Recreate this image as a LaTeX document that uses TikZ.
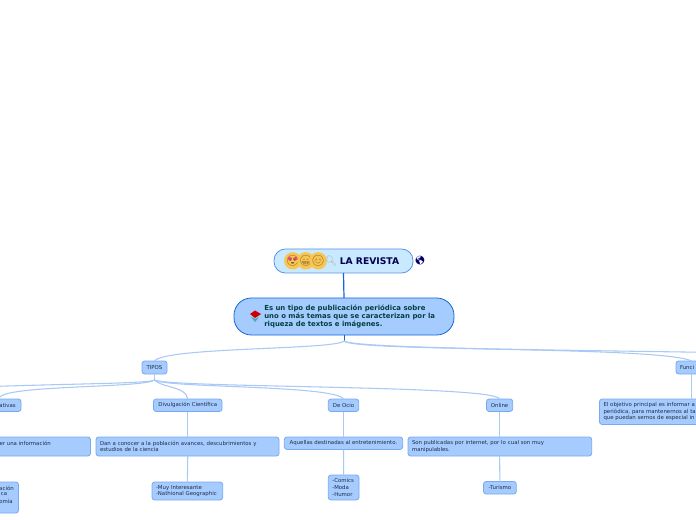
\documentclass[tikz,border=0pt]{standalone}
\usepackage{fontspec}
\setmainfont{DejaVu Sans}
\newfontfamily\emojifont{Noto Emoji}
\definecolor{boxfill}{HTML}{A6CCFF}
\definecolor{boxline}{HTML}{78A9F0}
\definecolor{boxtext}{HTML}{1F2C48}
\definecolor{titlefill}{HTML}{C8E9FF}
\definecolor{strong}{HTML}{1565D8}
\definecolor{linkcol}{HTML}{A9C9F6}
\definecolor{facecol}{HTML}{F7C650}
\tikzset{
  x=0.75pt,y=-0.75pt,
  boxbase/.style={rectangle,draw=boxline,fill=boxfill,line width=0.6pt,rounded corners=2pt,inner sep=0pt,outer sep=0pt,text=boxtext,font=\fontsize{4.05}{5}\selectfont},
  cliptext/.style={inner sep=0pt,text=boxtext,font=\fontsize{4.05}{5}\selectfont},
  titlebox/.style={boxbase,draw=strong!70!white,fill=titlefill,rounded corners=8.5pt},
  mainbox/.style={boxbase,draw=strong,fill=boxfill,rounded corners=13pt},
  link/.style={draw=linkcol,line width=0.8pt},
  strongline/.style={draw=strong,line width=0.9pt},
  facenode/.style={circle,fill=facecol,inner sep=0pt,minimum size=8.2pt,text=brown!70!black,font=\emojifont\fontsize{8}{8}\selectfont},
  glyphnode/.style={inner sep=0pt,font=\emojifont\fontsize{6.4}{6.4}\selectfont}
}
% name, style, x1, y1, x2, y2, text (centred)
\newcommand{\boxC}[7]{%
  \pgfmathsetmacro{\bcx}{(#3+#5)/2}\pgfmathsetmacro{\bcy}{(#4+#6)/2}%
  \pgfmathsetmacro{\bw}{(#5-#3)*0.75}\pgfmathsetmacro{\bh}{(#6-#4)*0.75}%
  \node[#2,minimum width=\bw pt,minimum height=\bh pt,align=center] (#1) at (\bcx,\bcy) {#7};}
% same, with a left-set paragraph starting 4px from the left edge
\newcommand{\boxL}[7]{%
  \pgfmathsetmacro{\bcx}{(#3+#5)/2}\pgfmathsetmacro{\bcy}{(#4+#6)/2}%
  \pgfmathsetmacro{\bw}{(#5-#3)*0.75}\pgfmathsetmacro{\bh}{(#6-#4)*0.75}%
  \pgfmathsetmacro{\bt}{(#5-#3-8)*0.75}%
  \node[#2,minimum width=\bw pt,minimum height=\bh pt,text width=\bt pt,align=left] (#1) at (\bcx,\bcy) {#7};}
\begin{document}
\begin{tikzpicture}
\useasboundingbox (0,0) rectangle (696,520);
\clip (0,0) rectangle (696,520);
\fill[white] (0,0) rectangle (696,520);

% top nodes
\boxC{title}{titlebox}{274}{249}{413}{273}{}
\node[inner sep=0pt,text=blue!30!black,font=\fontsize{6.9}{8}\bfseries\selectfont,anchor=west] (titletext) at (339.5,261) {LA REVISTA};
\boxC{main}{mainbox}{234}{298}{454}{335}{}
\node[inner sep=0pt,text=teal!50!black,font=\fontsize{5.2}{6.1}\bfseries\selectfont,align=left,anchor=west] (maintext) at (264,316.5) {Es un tipo de publicación periódica sobre\\uno o más temas que se caracterizan por la\\riqueza de textos e imágenes.};

% emoji
\node[facenode] (f1) at (292.7,260.8) {😍};
\fill[magenta!70!pink] (289.6,258.4) circle (1.9) (295.8,258.4) circle (1.9);
\node[facenode] (f2) at (305.8,260.8) {😁};
\node[facenode] (f3) at (318.2,260.8) {😊};
\node[glyphnode,text=gray!60,font=\emojifont\fontsize{7.5}{7.5}\selectfont] (f4) at (331,261) {🔍};
\node[glyphnode,text=blue!40!black] (globe) at (420,260.7) {🌎};
\fill[red!80!black] (250,314) -- (255,310.5) -- (261,314) -- (255,318) -- cycle;
\fill[teal!70] (251,317) -- (255,319) -- (259,317) -- (255,322) -- cycle;

% tier 1
\boxC{tipos}{boxbase}{142}{361}{167}{374}{TIPOS}
\boxL{funci}{boxbase}{676}{361}{740}{374}{Funci}

% tier 2
\boxC{infor}{boxbase}{-30}{399}{21}{411.5}{}
\node[cliptext,anchor=east] (infortext) at (16,405.2) {ativas};
\boxC{divul}{boxbase}{153.5}{399}{222}{411.5}{Divulgación Científica}
\boxC{ocio}{boxbase}{328.3}{399}{358.7}{411.5}{De Ocio}
\boxC{online}{boxbase}{486.5}{399}{512.7}{411.5}{Online}
\boxL{objet}{boxbase}{599.5}{399}{790}{424.5}{El objetivo principal es informar a\\periódica, para mantenernos al ta\\que puedan sernos de especial in}

% tier 3
\boxC{inforb}{boxbase}{-100}{437}{90.5}{456}{}
\node[cliptext,anchor=east] (inforbtext) at (51,443) {er una información};
\boxL{dan}{boxbase}{96}{437}{279}{456}{Dan a conocer a la población avances, descubrimientos y\\estudios de la ciencia}
\boxC{aquel}{boxbase}{284.3}{437}{402.7}{449.5}{Aquellas destinadas al entretenimiento.}
\boxL{son}{boxbase}{408}{437}{591.7}{456}{Son publicadas por internet, por lo cual son muy\\manipulables.}

% tier 4
\boxC{inforc}{boxbase}{-30}{482}{18.5}{513}{}
\node[cliptext,anchor=east] (inforc1) at (14,488) {ación};
\node[cliptext,anchor=east] (inforc2) at (7.5,494.3) {ca};
\node[cliptext,anchor=east] (inforc3) at (13,501) {omía};
\boxL{muy}{boxbase}{152}{482}{222.7}{500}{-Muy Interesante\\-Nathional Geographic}
\boxL{comics}{boxbase}{328.3}{475}{359}{500}{-Comics\\-Moda\\-Humor}
\boxC{turismo}{boxbase}{483.5}{481.5}{516.3}{494}{-Turismo}

% free ends off the page
\coordinate (offleft) at (-180,399);
\coordinate (offright) at (1100,361);
\coordinate (hubm) at (344,341);
\coordinate (hubt) at (154.5,380);
\coordinate (funcitop) at (691.7,361);
\coordinate (funcibot) at (691.7,374);
\coordinate (objettop) at (691.7,399);
\coordinate (infortop) at (0,397);

% connectors
\draw[strongline] (title.south) -- (main.north);
\draw[strongline,line width=0.6pt] (main.south) -- (hubm);
\draw[link] (hubm) .. controls (335,350) and (165,347) .. (tipos.north);
\draw[link] (hubm) .. controls (355,352) and (660,346) .. (funcitop);
\draw[link] (hubm) .. controls (360,352) and (800,350) .. (offright);
\draw[link] (tipos.south) -- (hubt);
\draw[link] (hubt) .. controls (145,388) and (10,385) .. (infortop);
\draw[link] (hubt) .. controls (145,386) and (-60,382) .. (offleft);
\draw[link] (hubt) .. controls (162,388) and (186,386) .. (divul.north);
\draw[link] (hubt) .. controls (165,388) and (335,385) .. (ocio.north);
\draw[link] (hubt) .. controls (170,388) and (495,385) .. (online.north);
\draw[link] (divul.south) -- (dan.north -| divul.south);
\draw[link] (dan.south -| divul.south) -- (muy.north);
\draw[link] (ocio.south) -- (aquel.north -| ocio.south);
\draw[link] (aquel.south -| ocio.south) -- (comics.north);
\draw[link] (online.south) -- (son.north -| online.south);
\draw[link] (son.south -| online.south) -- (turismo.north);
\draw[link] (funcibot) -- (objettop);
\end{tikzpicture}
\end{document}
